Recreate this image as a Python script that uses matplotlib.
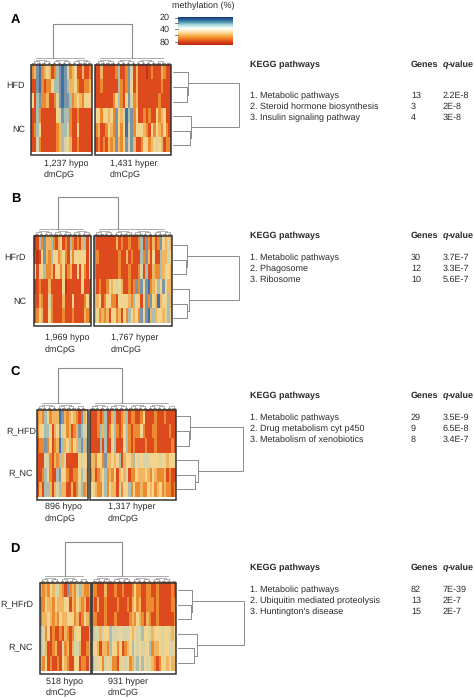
import numpy as np
import matplotlib
matplotlib.use('Agg')
import matplotlib.pyplot as plt
from matplotlib.colors import ListedColormap, LinearSegmentedColormap
from matplotlib.patches import Rectangle

plt.rcParams['font.family'] = ['Liberation Sans', 'DejaVu Sans']
plt.rcParams['text.hinting'] = 'no_hinting'
plt.rcParams['text.hinting_factor'] = 1

# heatmap values as level codes per column, 0 = low methylation, 9 = high
a_hypo = ["762176 568732 124765 886887", "882178 775332 123665 788776",
          "583277 688742 122376 567555", "883788 888854 233788 788888",
          "873588 888876 334788 588888", "884788 888876 345688 788888"]
a_hyper = ["886888 887388 724868 889878 886788", "887888 888378 725868 888888 887888",
           "888888 875378 524768 888888 878888", "557556 572564 132758 878788 576588",
           "768875 672575 142755 567857 567578", "878786 762675 242688 755765 456877"]
b_hypo = ["983726 637865 878378 786385", "898526 735576 578475 555585",
          "585537 768557 587688 585785", "987888 688888 598888 885888",
          "886788 478888 688858 888758", "875688 578888 788878 888678"]
b_hyper = ["28888888 86878878 88738278 68725646", "27888888 88788687 88837268 58836645",
           "28888888 88788878 88748388 67736556", "38788756 54568878 72725217 65352566",
           "36587557 78555567 35585272 56165536", "35767685 57685735 65725216 36556435"]
c_hypo = ["7673576 6612676 5678265", "7553358 6524576 8762344",
          "8772758 7613656 7563263", "8884478 6736488 8885455",
          "8873578 8325578 8775346", "8683368 6436688 6874376"]
c_hyper = ["888787 388638 876387 788758 888788 878888", "888736 387537 875378 777578 887788 888788",
           "888838 388538 885378 788887 888788 888878", "667557 266565 386556 354544 455554 556555",
           "768765 376758 656487 756665 675677 768788", "556775 375668 475537 577677 565765 767787"]
d_hypo = ["3767564 4678276 7436773", "2756675 6665586 7567682",
          "2665676 7566555 7687562", "3475878 8786787 4558883",
          "3468876 8847686 4468873", "3758788 7856788 5587784"]
d_hyper = ["778886 888788 788875 778877 887888 8878", "786887 888878 887865 768877 787888 8877",
           "778887 888788 888767 567867 887888 8887", "344645 534445 444565 443554 655545 5465",
           "456866 735575 876535 454453 766545 5445", "345574 547784 545764 353545 678755 6566"]

kegg_a = ["1. Metabolic pathways", "2. Steroid hormone biosynthesis", "3. Insulin signaling pathway"]
genes_a = ["13", "3", "4"]
q_a = ["2.2E-8", "2E-8", "3E-8"]
kegg_b = ["1. Metabolic pathways", "2. Phagosome", "3. Ribosome"]
genes_b = ["30", "12", "10"]
q_b = ["3.7E-7", "3.3E-7", "5.6E-7"]
kegg_c = ["1. Metabolic pathways", "2. Drug metabolism cyt p450", "3. Metabolism of xenobiotics"]
genes_c = ["29", "9", "8"]
q_c = ["3.5E-9", "6.5E-8", "3.4E-7"]
kegg_d = ["1. Metabolic pathways", "2. Ubiquitin mediated proteolysis", "3. Huntington's disease"]
genes_d = ["82", "13", "15"]
q_d = ["7E-39", "2E-7", "2E-7"]

heat_cmap = ListedColormap(['#1d3f7f', '#3f6fa8', '#7d93a6', '#a9bdb0', '#d6d3a8',
                            '#f2d48f', '#f0b560', '#ec8a30', '#dc4a1e', '#c2330f'])
bar_cmap = LinearSegmentedColormap.from_list('meth', [
    (0.0, '#17357a'), (0.15, '#3f86ad'), (0.28, '#a8dcd8'), (0.4, '#ffffff'),
    (0.55, '#fde0a0'), (0.72, '#f59a2e'), (0.88, '#e0481a'), (1.0, '#b8280f')])

LINE = '#8c8c8c'
TEXT = '#2b2b2b'
FS = 6.4


def parse(rows):
    return np.array([[int(c) for c in r.replace(" ", "")] for r in rows])


def small_tree(ax, x0, x1, n, top):
    # little caps above the columns
    xs = np.linspace(x0, x1, n + 1)
    xs = (xs[:-1] + xs[1:]) / 2
    for i in range(0, n - 1, 2):
        ax.plot([xs[i], xs[i], xs[i + 1], xs[i + 1]], [top, top - 1.5, top - 1.5, top], color='#444444', lw=0.4)
    for i in range(0, n - 3, 4):
        a, b = (xs[i] + xs[i + 1]) / 2, (xs[i + 2] + xs[i + 3]) / 2
        ax.plot([a, a, b, b], [top - 1.5, top - 3, top - 3, top - 1.5], color='#777777', lw=0.4)
    for i in range(0, n - 7, 8):
        a, b = (xs[i] + xs[i + 3]) / 2, (xs[i + 4] + xs[i + 7]) / 2
        ax.plot([a, a, b, b], [top - 3, top - 4.5, top - 4.5, top - 3], color=LINE, lw=0.45)
    ax.plot([x0 + 5, x1 - 8], [top - 6, top - 6], color=LINE, lw=0.5)


def side_group(ax, xl, leaves, join, drop):
    sub = join - drop
    mid = (leaves[1] + leaves[2]) / 2
    ax.plot([xl, join], [leaves[0], leaves[0]], color=LINE, lw=0.7)
    ax.plot([xl, sub], [leaves[1], leaves[1]], color=LINE, lw=0.7)
    ax.plot([xl, sub], [leaves[2], leaves[2]], color=LINE, lw=0.7)
    ax.plot([sub, sub], [leaves[1], leaves[2]], color=LINE, lw=0.7)
    ax.plot([sub, join], [mid, mid], color=LINE, lw=0.7)
    ax.plot([join, join], [leaves[0], mid], color=LINE, lw=0.7)


def side_tree(ax, xl, leaves, join1, join2, drop, root_x, root1, root2):
    side_group(ax, xl, leaves[:3], join1, 0.8)
    side_group(ax, xl, leaves[3:], join2, drop)
    ax.plot([join1, root_x, root_x, join2], [root1, root1, root2, root2], color=LINE, lw=0.7)


def panel(ax, letter, ly, hypo, hyper, boxes, top, bottom, stems, stem_top, labels, caps, cap_y, side):
    ax.text(letter[0], ly, letter[1], fontsize=9, fontweight='bold', color='black', va='center')
    (x0, x1), (x2, x3) = boxes
    ax.imshow(parse(hypo), extent=(x0, x1, bottom - 2.5, top), cmap=heat_cmap, vmin=-0.5, vmax=9.5,
              aspect='auto', interpolation='nearest')
    ax.imshow(parse(hyper), extent=(x2, x3, bottom - 2.5, top), cmap=heat_cmap, vmin=-0.5, vmax=9.5,
              aspect='auto', interpolation='nearest')
    for a, b in boxes:
        ax.add_patch(Rectangle((a, top), b - a, bottom - top, fill=False, ec='#333333', lw=1.1))
    small_tree(ax, x0, x1, len(hypo[0].replace(" ", "")), top - 1)
    small_tree(ax, x2, x3, len(hyper[0].replace(" ", "")), top - 1)
    ax.plot([stems[0], stems[0], stems[1], stems[1]], [top - 7, stem_top, stem_top, top - 7], color=LINE, lw=0.8)
    for x, y, s in labels:
        ax.text(x, y, s, fontsize=FS, color=TEXT, ha='right', va='center')
    for x, s in caps:
        ax.text(x, cap_y[0], s[0], fontsize=FS, color=TEXT, va='center')
        ax.text(x, cap_y[1], s[1], fontsize=FS, color=TEXT, va='center')
    side_tree(ax, *side)


def table(ax, head_y, item_y, kegg, genes, q):
    ax.text(250, head_y, "KEGG pathways", fontsize=FS, fontweight='bold', color=TEXT, va='center')
    ax.text(411, head_y, "Genes", fontsize=FS, fontweight='bold', color=TEXT, va='center')
    ax.text(443, head_y, "q", fontsize=FS, fontweight='bold', style='italic', color=TEXT, va='center')
    ax.text(448, head_y, "-value", fontsize=FS, fontweight='bold', color=TEXT, va='center')
    for i in range(3):
        y = item_y + i * 10.7
        ax.text(250, y, kegg[i], fontsize=FS, color=TEXT, va='center')
        ax.text(411, y, genes[i], fontsize=FS, color=TEXT, va='center')
        ax.text(443, y, q[i], fontsize=FS, color=TEXT, va='center')


fig = plt.figure(figsize=(4.74, 6.99), dpi=100)
ax = fig.add_axes([0, 0, 1, 1])

panel(ax, (11, 'A'), 20, a_hypo, a_hyper, [(31, 92), (95, 171)], 65, 155, (53, 132), 24,
      [(25, 86, 'HFD'), (25, 130, 'NC')],
      [(44, ('1,237 hypo', 'dmCpG')), (110, ('1,431 hyper', 'dmCpG'))], (164, 175),
      (173, [72, 87, 102, 116, 131, 145], 188, 191, 0.8, 239, 83, 127))
panel(ax, (11, 'B'), 199, b_hypo, b_hyper, [(34, 91), (94, 172)], 236, 326, (58, 118), 197,
      [(26, 258, 'HFrD'), (26, 302, 'NC')],
      [(45, ('1,969 hypo', 'dmCpG')), (111, ('1,767 hyper', 'dmCpG'))], (338, 350),
      (173, [245, 260, 274, 289, 304, 318], 187, 189, 2, 239, 256, 300))
panel(ax, (10, 'C'), 372, c_hypo, c_hyper, [(37, 88), (90, 176)], 410, 500, (58, 122), 368,
      [(36, 431, 'R_HFD'), (33, 474, 'R_NC')],
      [(45, ('896 hypo', 'dmCpG')), (108, ('1,317 hyper', 'dmCpG'))], (507, 519),
      (177, [416, 431, 446, 460, 475, 489], 190, 198, 3, 243, 427, 471))
panel(ax, (10, 'D'), 549, d_hypo, d_hyper, [(40, 91), (92, 176)], 583, 674, (65, 122), 542,
      [(33, 604, 'R_HFrD'), (33, 648, 'R_NC')],
      [(46, ('518 hypo', 'dmCpG')), (108, ('931 hyper', 'dmCpG'))], (682, 693),
      (178, [590, 605, 619, 634, 648, 663], 192, 197, 3, 244, 601, 645))

table(ax, 65, 96, kegg_a, genes_a, q_a)
table(ax, 236, 258, kegg_b, genes_b, q_b)
table(ax, 396, 418, kegg_c, genes_c, q_c)
table(ax, 568, 590, kegg_d, genes_d, q_d)

# colour key
ax.imshow(np.linspace(0, 1, 100).reshape(-1, 1), extent=(178, 233, 45, 17), cmap=bar_cmap, aspect='auto')
for y in [17.5, 23, 29, 35, 42]:
    ax.plot([175.5, 178], [y, y], color='#444444', lw=0.5)
for y, s in [(17.5, '20'), (30, '40'), (43, '80')]:
    ax.text(170, y, s, fontsize=FS, color=TEXT, ha='right', va='center')
ax.text(203, 6, "methylation (%)", fontsize=FS, color=TEXT, ha='center', va='center')

ax.set_xlim(0, 474)
ax.set_ylim(699, 0)
ax.axis('off')
fig.savefig('out.png', dpi=100)
